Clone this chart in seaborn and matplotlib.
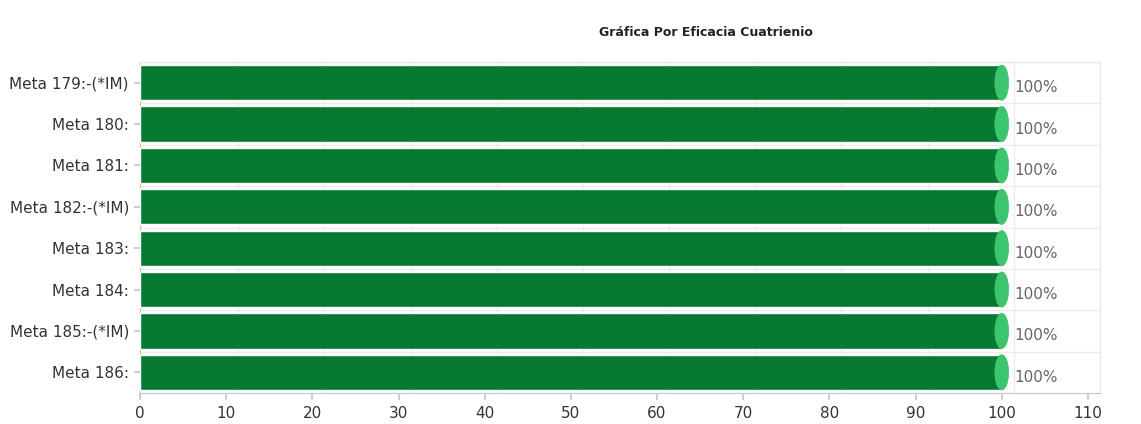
import matplotlib
matplotlib.use("Agg")
import matplotlib.pyplot as plt
from matplotlib.patches import Ellipse
import seaborn as sns
import pandas as pd

categories = ["Meta 179:-(*IM)", "Meta 180:", "Meta 181:", "Meta 182:-(*IM)",
              "Meta 183:", "Meta 184:", "Meta 185:-(*IM)", "Meta 186:"]
values = [100, 100, 100, 100, 100, 100, 100, 100]
value_labels = ["100%"] * 8
x_ticks = [0, 10, 20, 30, 40, 50, 60, 70, 80, 90, 100, 110]
title = "Gráfica Por Eficacia Cuatrienio"

sns.set_theme(style="white")
plt.rcParams['font.family'] = ['DejaVu Sans']

df = pd.DataFrame({"cat": categories, "val": values})

fig = plt.figure(figsize=(11.41, 4.24), dpi=100)
ax = fig.add_axes([140/1141, 1 - 393/424, (1100-140)/1141, (393-62)/424])

bar_h = 0.85
dark = "#077a32"
light = "#3cc56e"
sns.barplot(data=df, x="val", y="cat", orient="h", color=dark, saturation=1,
            width=bar_h, ax=ax, zorder=3)

# cylinder end caps
for i, v in enumerate(values):
    ax.add_patch(Ellipse((v, i), width=1.6, height=bar_h, facecolor=light,
                         edgecolor=light, lw=0.5, zorder=4))
    ax.text(v + 1.4, i + 0.12, value_labels[i], va="center", ha="left",
            fontsize=11, color="#666666", zorder=5)

ax.set_xlim(0, 111.4)
ax.set_ylim(len(categories) - 0.5, -0.5)
ax.set_xticks(x_ticks)
ax.set_xticklabels([str(t) for t in x_ticks])
ax.set_xlabel("")
ax.set_ylabel("")

# grid
for t in x_ticks[1:]:
    ax.axvline(t + 1.4, color="#ebebeb", lw=0.9, zorder=0)
for k in range(len(categories) - 1):
    ax.axhline(k + 0.5, color="#ebebeb", lw=0.9, zorder=0)

for s in ["top", "right"]:
    ax.spines[s].set_color("#e6e6e6")
    ax.spines[s].set_linewidth(0.9)
for s in ["left", "bottom"]:
    ax.spines[s].set_color("#c8c8c8")
    ax.spines[s].set_linewidth(0.9)

ax.tick_params(axis="x", which="both", bottom=True, length=5, color="#c8c8c8",
               labelsize=11, labelcolor="#333333", pad=4)
ax.tick_params(axis="y", which="both", left=True, length=4, color="#c8c8c8",
               labelsize=11, labelcolor="#333333", pad=4)

fig.text(706/1141, 1 - 33/424, title, ha="center", va="center",
         fontsize=9, fontweight="bold", color="#222222")

fig.savefig("out.png", dpi=100)
